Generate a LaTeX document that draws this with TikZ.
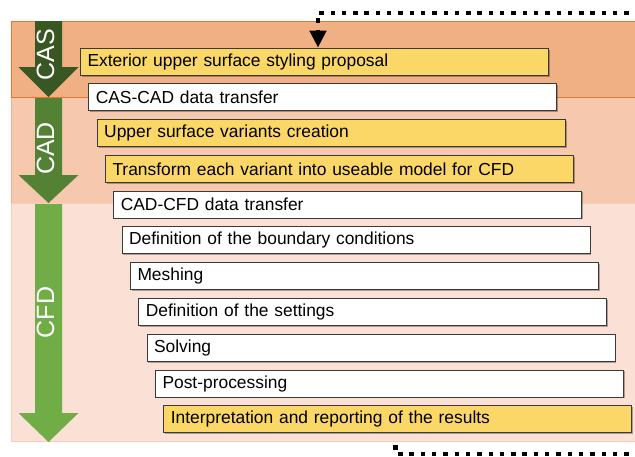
\documentclass[tikz,border=0pt]{standalone}
\usepackage{fontspec}
\setmainfont{Liberation Sans}
\usetikzlibrary{arrows.meta,shadows}
\definecolor{casband}{HTML}{F0B084}
\definecolor{casline}{HTML}{E0782F}
\definecolor{cadband}{HTML}{F6C8AD}
\definecolor{cadline}{HTML}{F0B08A}
\definecolor{cfdband}{HTML}{FBE0D5}
\definecolor{cfdline}{HTML}{F6CDB8}
\definecolor{casarrow}{HTML}{385723}
\definecolor{cadarrow}{HTML}{548235}
\definecolor{cfdarrow}{HTML}{70AD47}
\definecolor{boxyellow}{HTML}{FAD766}
\definecolor{boxline}{HTML}{3A3A3A}
\tikzset{
  stepbox/.style={draw=boxline, line width=1pt, anchor=north west,
    minimum height=27pt, inner ysep=0pt, inner xsep=7pt, text width=454pt,
    align=left, font=\fontsize{17.4}{20}\selectfont,
    drop shadow={shadow xshift=1.3pt, shadow yshift=-1.3pt, fill=black, opacity=0.3}},
  yellowbox/.style={stepbox, fill=boxyellow},
  whitebox/.style={stepbox, fill=white},
  phaselabel/.style={text=white, rotate=90, inner sep=0pt, font=\fontsize{25}{28}\selectfont},
  dotline/.style={line width=4.2pt, dash pattern=on 4.4pt off 6.9pt},
}
\begin{document}
\begin{tikzpicture}[x=1pt,y=-1pt]
\useasboundingbox (0,0) rectangle (635,456);
% bottom connector (behind the bands)
\coordinate (bk) at (395.5,454);
\coordinate (br) at (640,454);
\coordinate (bs) at (395.5,434);
\draw[dotline] (bs) -- (bk) -- (br);
% bands
\fill[casband, draw=casline, line width=1pt] (11,21) rectangle (640,97);
\fill[cadband, draw=cadline, line width=0.8pt] (11,97.5) rectangle (640,203.5);
\fill[cfdband, draw=cfdline, line width=0.8pt] (11,203.5) rectangle (640,441);
\draw[casline, line width=1pt] (11,21) -- (640,21);
\draw[casline, line width=1pt] (11,97) -- (640,97);
% phase arrows
\fill[casarrow] (35,21) -- (62,21) -- (62,67) -- (78.5,67) -- (48.5,97) -- (18.5,67) -- (35,67) -- cycle;
\fill[cadarrow] (35,98) -- (62,98) -- (62,175) -- (78.5,175) -- (48.5,203) -- (18.5,175) -- (35,175) -- cycle;
\fill[cfdarrow] (35,204) -- (62,204) -- (62,413) -- (78.5,413) -- (48.5,442) -- (18.5,413) -- (35,413) -- cycle;
\node[phaselabel] (lcas) at (45.5,55) {CAS};
\node[phaselabel] (lcad) at (45.5,148.5) {CAD};
\node[phaselabel] (lcfd) at (45.5,312.5) {CFD};
% step boxes
\node[yellowbox] (b1) at (80,47.7) {Exterior upper surface styling proposal};
\node[whitebox] (b2) at (88.3,83.3) {CAS-CAD data transfer};
\node[yellowbox] (b3) at (96.7,119) {Upper surface variants creation};
\node[yellowbox] (b4) at (105,154.8) {Transform each variant into useable model for CFD};
\node[whitebox] (b5) at (113.3,190.6) {CAD-CFD data transfer};
\node[whitebox] (b6) at (121.6,226.4) {Definition of the boundary conditions};
\node[whitebox] (b7) at (130,262.2) {Meshing};
\node[whitebox] (b8) at (138.3,298) {Definition of the settings};
\node[whitebox] (b9) at (146.6,333.8) {Solving};
\node[whitebox] (b10) at (155,369.6) {Post-processing};
\node[yellowbox] (b11) at (163.3,405.4) {Interpretation and reporting of the results};
% top connector
\coordinate (tr) at (640,12.7);
\coordinate (tk) at (318,12.7);
\draw[dotline, -{Triangle[width=16pt,length=17pt]}] (tr) -- (tk) -- (tk |- b1.north);
\end{tikzpicture}
\end{document}
